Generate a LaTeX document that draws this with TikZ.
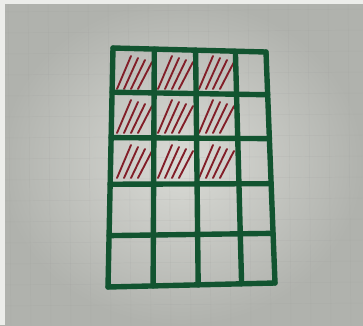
\documentclass[tikz,border=0pt]{standalone}
\usepackage{tikz}
\usetikzlibrary{calc}
\definecolor{paper}{RGB}{218,219,214}
\definecolor{paperdark}{RGB}{176,178,173}
\definecolor{paperedge}{RGB}{236,237,234}
\definecolor{ink}{RGB}{18,84,48}
\definecolor{hatchred}{RGB}{130,30,40}
\tikzset{
  gridline/.style={draw=ink, line width=4.6pt, line cap=round, line join=round},
  redhatch/.style={draw=hatchred, line width=1.6pt, line cap=round},
  paperline/.style={draw=black!40, line width=0.4pt, opacity=0.18},
}
\begin{document}
\begin{tikzpicture}[x=0.03cm,y=-0.03cm]
\useasboundingbox (0,0) rectangle (363,325);
% paper
\shade[inner color=paper, outer color=paperdark] (0,0) rectangle (363,325);
\foreach \x in {8,28,...,360}
  \draw[paperline] (\x,0) -- (\x+3,325);
\foreach \y in {12,33,...,325}
  \draw[paperline] (0,\y) -- (363,\y-3);
\fill[paperedge] (0,0) rectangle (5,325);
\fill[paperedge] (0,0) rectangle (363,4);
% grid corners
\coordinate (tl) at (113,48);
\coordinate (tr) at (266,52);
\coordinate (bl) at (108,287);
\coordinate (br) at (275,283);
% hatching in the top-left 3x3 cells
\foreach \cx in {113,154,195}
  \foreach \cy in {48,92,137}
    \foreach \k in {0,1,2,3}
      \draw[redhatch] (\cx+4+7*\k,\cy+41) -- (\cx+18+7*\k,\cy+8+2*\k);
% rows
\foreach \f in {0,.185,.375,.57,.785,1}
  \draw[gridline] ($(tl)!\f!(bl)$) -- ($(tr)!\f!(br)$);
% columns
\foreach \f in {0,.27,.54,.8,1}
  \draw[gridline] ($(tl)!\f!(tr)$) -- ($(bl)!\f!(br)$);
\end{tikzpicture}
\end{document}
